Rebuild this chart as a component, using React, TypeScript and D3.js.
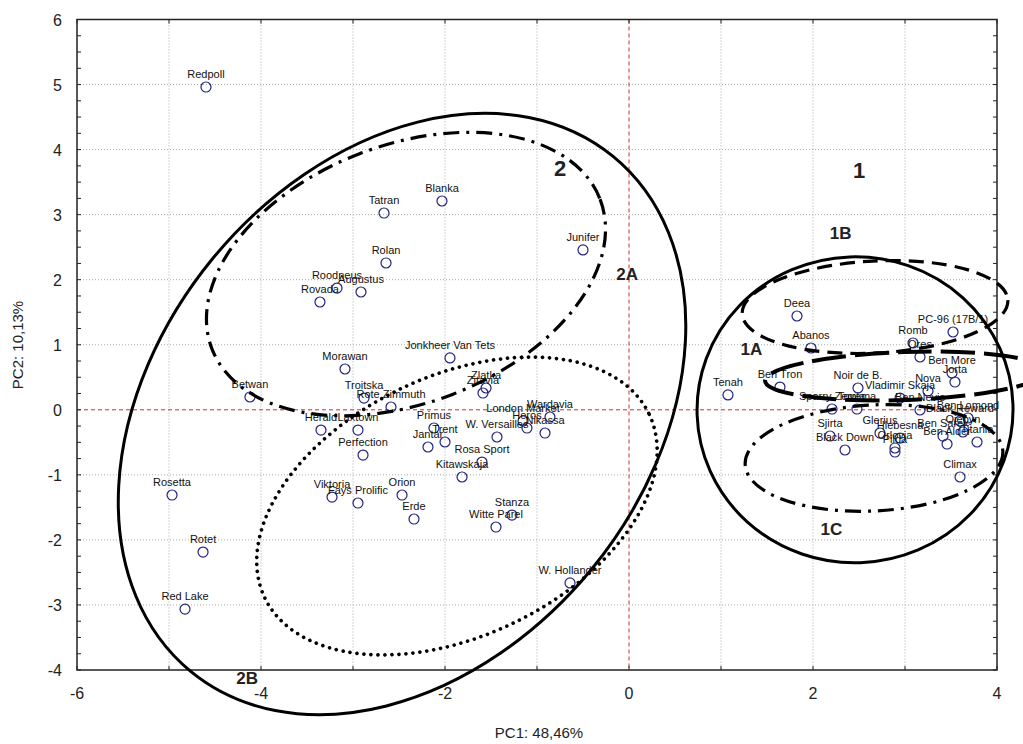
import React from "react";
import * as d3 from "d3";

const names = [
  "Redpoll","Tatran","Blanka","Rolan","Roodneus","Augustus","Rovada","Junifer","Jonkheer Van Tets","Morawan",
  "Betwan","Troitska","Rote Zimmuth","Zitavia","Zlatka","Herald","Laxtown","Perfection","Primus","Trent",
  "Jantar","London Market","Heros","Wardavia","Nikassa","W. Versailles","Rosa Sport","Kitawskaja","Orion","Erde",
  "Viktoria","Fays Prolific","Stanza","Witte Parel","W. Hollander","Rosetta","Rotet","Red Lake",
  "Tenah","Ben Tron","Deea","Abanos","Sparry Zemla","Tovema","Noir de B.","Vladimir Skaja","Nova","Ben Nevis",
  "PC-96 (17B/1)","Romb","Ores","Ben More","Jorta","Ben Lomond","Black Reward","Ojebyn","Titania","Glerius",
  "Sjirta","Hlebesna","Ben Sarek","Black Down","Orlovia","Pilda","Climax","Ben Alder"
];
const pc1 = [
  -4.598,-2.663,-2.033,-2.641,-3.174,-2.913,-3.359,-0.5,-1.946,-3.087,
  -4.12,-2.88,-2.587,-1.587,-1.554,-3.348,-2.946,-2.891,-2.12,-2.0,
  -2.185,-1.152,-1.109,-0.859,-0.913,-1.435,-1.598,-1.815,-2.467,-2.337,
  -3.228,-2.946,-1.272,-1.446,-0.641,-4.967,-4.63,-4.826,
  1.076,1.641,1.826,1.978,2.207,2.478,2.489,2.946,3.25,3.163,
  3.522,3.087,3.163,3.511,3.543,3.685,3.598,3.63,3.783,2.728,
  2.185,2.946,3.413,2.348,2.891,2.891,3.598,3.457
];
const pc2 = [
  4.962,3.025,3.21,2.257,1.872,1.811,1.657,2.457,0.797,0.627,
  0.197,0.181,0.043,0.258,0.335,-0.311,-0.311,-0.696,-0.28,-0.495,
  -0.572,-0.172,-0.28,-0.111,-0.357,-0.418,-0.803,-1.033,-1.31,-1.679,
  -1.341,-1.433,-1.618,-1.802,-2.662,-1.31,-2.187,-3.064,
  0.228,0.35,1.442,0.95,0.012,0.012,0.335,0.181,0.289,-0.003,
  1.196,1.027,0.812,0.566,0.427,-0.126,-0.172,-0.341,-0.495,-0.357,
  -0.403,-0.434,-0.403,-0.618,-0.587,-0.649,-1.033,-0.526
];

const xTicks = [-6, -4, -2, 0, 2, 4];
const yTicks = [-4, -3, -2, -1, 0, 1, 2, 3, 4, 5, 6];
const gridX = [-5, -4, -3, -2, -1, 1, 2, 3];
const gridY = [-3, -2, -1, 1, 2, 3, 4, 5];

// group ellipses: centre in PC units, radii (px), rotation (deg), style
const ellipseIds = ["2", "2A", "2B", "1", "1B", "1A", "1C"];
const ellipseCx = [-2.467, -2.424, -1.87, 2.457, 2.674, 3.0, 2.663];
const ellipseCy = [-0.065, 2.087, -1.479, 0.0, 1.58, 0.52, -0.74];
const ellipseRx = [333, 208, 213, 158, 133, 140, 129];
const ellipseRy = [245, 129, 130, 153, 46, 24, 53];
const ellipseAngle = [-50.6, -21.1, -25.5, -2, -3, -2, -3];
const ellipseStyle = ["solid", "dashdot", "dotted", "solid", "dashed", "longdash", "dashdot"];

const groupLabels = ["2", "2A", "2B", "1", "1B", "1A", "1C"];
const groupLabelX = [-0.75, -0.02, -4.15, 2.5, 2.3, 1.33, 2.2];
const groupLabelY = [3.6, 2.0, -4.22, 3.57, 2.62, 0.85, -1.92];
const groupLabelSize = [22, 17, 17, 22, 17, 17, 17];

const W = 1023, H = 744;
const x = d3.scaleLinear().domain([-6, 4]).range([77, 997]);
const y = d3.scaleLinear().domain([-4, 6]).range([670, 19.5]);

function dashFor(s: string) {
  if (s === "dashdot") return { dash: "16 7 3 7", width: 3.2, cap: "butt" };
  if (s === "dotted") return { dash: "0 7", width: 3.6, cap: "round" };
  if (s === "dashed") return { dash: "15 8", width: 3.2, cap: "butt" };
  if (s === "longdash") return { dash: "34 9", width: 4, cap: "butt" };
  return { dash: "none", width: 3, cap: "butt" };
}

export default function App() {
  const minorY = d3.range(-4, 6.001, 0.25);
  const minorX = d3.range(-6, 4.001, 1);
  const font = "'Liberation Sans', Arial, sans-serif";
  return (
    <svg width={W} height={H} style={{ position: "absolute", left: 0, top: 0, background: "#fff" }}>
      {gridX.map((v) => (
        <line key={"gx" + v} x1={x(v)} x2={x(v)} y1={y(6)} y2={y(-4)} stroke="#aaa" strokeWidth={1} strokeDasharray="1 2" />
      ))}
      {gridY.map((v) => (
        <line key={"gy" + v} x1={x(-6)} x2={x(4)} y1={y(v)} y2={y(v)} stroke="#aaa" strokeWidth={1} strokeDasharray="1 2" />
      ))}
      <line x1={x(0)} x2={x(0)} y1={y(6)} y2={y(-4)} stroke="#c83030" strokeWidth={1} strokeDasharray="4 3" />
      <line x1={x(-6)} x2={x(4)} y1={y(0)} y2={y(0)} stroke="#c83030" strokeWidth={1} strokeDasharray="4 3" />
      <rect x={x(-6)} y={y(6)} width={x(4) - x(-6)} height={y(-4) - y(6)} fill="none" stroke="#222" strokeWidth={1.5} />
      {minorY.map((v, i) => (
        <g key={"ty" + i}>
          <line x1={x(-6)} x2={x(-6) + 4} y1={y(v)} y2={y(v)} stroke="#222" />
          <line x1={x(4)} x2={x(4) - 4} y1={y(v)} y2={y(v)} stroke="#222" />
        </g>
      ))}
      {minorX.map((v, i) => (
        <g key={"tx" + i}>
          <line x1={x(v)} x2={x(v)} y1={y(-4)} y2={y(-4) - 4} stroke="#222" />
          <line x1={x(v)} x2={x(v)} y1={y(6)} y2={y(6) + 4} stroke="#222" />
        </g>
      ))}
      {yTicks.map((v) => (
        <text key={"yl" + v} x={62} y={y(v) + 6} textAnchor="end" fontFamily={font} fontSize={16} fill="#222">
          {v}
        </text>
      ))}
      {xTicks.map((v) => (
        <text key={"xl" + v} x={x(v)} y={699} textAnchor="middle" fontFamily={font} fontSize={16} fill="#222">
          {v}
        </text>
      ))}
      <text x={539} y={738} textAnchor="middle" fontFamily={font} fontSize={15} fill="#222">PC1: 48,46%</text>
      <text transform={`translate(23,345) rotate(-90)`} textAnchor="middle" fontFamily={font} fontSize={15} fill="#222">PC2: 10,13%</text>
      {names.map((n, i) => (
        <g key={"p" + i}>
          <circle cx={x(pc1[i])} cy={y(pc2[i])} r={5} fill="none" stroke="#23237e" strokeWidth={1.2} />
          <text x={x(pc1[i])} y={y(pc2[i]) - 9} textAnchor="middle" fontFamily={font} fontSize={11} fill="#111">
            {n}
          </text>
        </g>
      ))}
      {ellipseIds.map((id, i) => {
        const st = dashFor(ellipseStyle[i]);
        return (
          <ellipse
            key={"e" + id}
            cx={0}
            cy={0}
            rx={ellipseRx[i]}
            ry={ellipseRy[i]}
            transform={`translate(${x(ellipseCx[i])},${y(ellipseCy[i])}) rotate(${ellipseAngle[i]})`}
            fill="none"
            stroke="#000"
            strokeWidth={st.width}
            strokeDasharray={st.dash}
            strokeLinecap={st.cap as any}
          />
        );
      })}
      {groupLabels.map((g, i) => (
        <text key={"g" + g} x={x(groupLabelX[i])} y={y(groupLabelY[i])} textAnchor="middle" fontFamily={font} fontWeight="bold" fontSize={groupLabelSize[i]} fill="#222">
          {g}
        </text>
      ))}
    </svg>
  );
}
